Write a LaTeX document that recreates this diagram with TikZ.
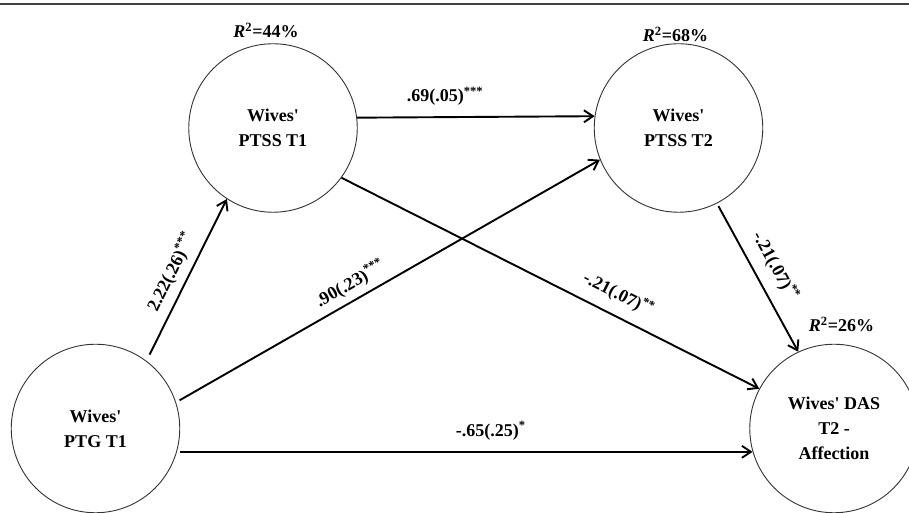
\documentclass[tikz,border=0pt]{standalone}
\usepackage{fontspec}
\setmainfont{Liberation Serif}
\usetikzlibrary{arrows.meta}
\usepackage{xcolor}
\definecolor{rule-color}{HTML}{404040}
\definecolor{circle-color}{HTML}{333333}

\begin{document}
\begin{tikzpicture}[x=1pt, y=1pt,
  font=\bfseries\fontsize{18}{25}\selectfont,
  >={Straight Barb[length=9pt, width=12pt]},
  var/.style={circle, draw=circle-color, line width=0.9pt, minimum size=168.5pt, inner sep=0pt, align=center},
  link/.style={->, line width=1.9pt},
  lbl/.style={inner sep=0pt}
]
\useasboundingbox (0,0) rectangle (909,513);
\draw[rule-color, line width=1.2pt] (0,509) -- (909,509);

\node(ptg)   [var] at (95.5,84.5) {Wives\textquotesingle\\PTG T1};
\node(ptssa) [var] at (273,385)   {Wives\textquotesingle\\PTSS T1};
\node(ptssb) [var] at (678.5,385) {Wives\textquotesingle\\PTSS T2};
\node(das)   [var] at (834,84.5)  {Wives\textquotesingle{} DAS\\T2 -\\Affection};

\node(r1) [anchor=base] at (266,475.3)   {\textit{R}\textsuperscript{2}=44\%};
\node(r2) [anchor=base] at (675.5,471.5) {\textit{R}\textsuperscript{2}=68\%};
\node(r3) [anchor=base] at (841.5,181.3) {\textit{R}\textsuperscript{2}=26\%};

\draw[link, shorten <=7pt] (ptg.53) -- node(l1)[lbl, sloped, above=7pt, pos=.5]
  {2.22(.26)\textsuperscript{***}} (ptssa.-123);
\draw[link, shorten <=4pt] (ptg.18) -- node(l2)[lbl, sloped, above=6pt, pos=.43]
  {.90(.23)\textsuperscript{***}} (ptssb.202);
\draw[link, shorten <=3.5pt] (ptg.-16) -- node(l3)[lbl, above=11pt, pos=.545]
  {-.65(.25)\textsuperscript{*}} (das.196);
\draw[link] (ptssa.7.5) -- node(l4)[lbl, above=11pt, pos=.37]
  {.69(.05)\textsuperscript{***}} (ptssb.172.5);
\draw[link] (ptssa.-36) -- node(l5)[lbl, sloped, above=11pt, pos=.64]
  {-.21(.07)\textsuperscript{**}} (das.152);
\draw[link, shorten <=3pt] (ptssb.-63) -- node(l6)[lbl, sloped, above=11pt, pos=.49]
  {-.21(.07)\textsuperscript{**}} (das.115);

\end{tikzpicture}
\end{document}
